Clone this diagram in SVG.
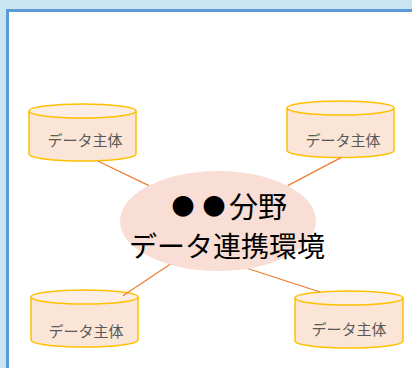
<svg xmlns="http://www.w3.org/2000/svg" width="412" height="368" viewBox="0 0 412 368">
<style>
.cyl-body{fill:#fbe5d6;stroke:#ffc000;stroke-width:1.5}
.cyl-top{fill:#fdeee5;stroke:#ffc000;stroke-width:1.5}
.cyl-text{font-family:"Noto Sans CJK JP","Noto Sans",sans-serif;font-size:15px;fill:#595959;text-anchor:middle}
.conn{stroke:#ed7d31;stroke-width:1.3;fill:none}
.hub-text{font-family:"Noto Sans CJK JP","Noto Sans",sans-serif;font-size:28px;fill:#000;text-anchor:middle}
.dot{font-size:23px}
</style>
<rect x="0" y="0" width="412" height="368" fill="#c9e5f2"/>
<rect x="7.5" y="10.5" width="420" height="380" fill="#ffffff" stroke="#5b9bd5" stroke-width="3"/>

<g id="cyl1">
<path class="cyl-body" d="M29,111 V154 A53.5,7 0 0 0 136,154 V111"/>
<ellipse class="cyl-top" cx="82.5" cy="111" rx="53.5" ry="7"/>
<text class="cyl-text" x="85" y="146">データ主体</text>
</g>
<g id="cyl2">
<path class="cyl-body" d="M287,108 V150.5 A53.5,7 0 0 0 394,150.5 V108"/>
<ellipse class="cyl-top" cx="340.5" cy="108" rx="53.5" ry="7"/>
<text class="cyl-text" x="343" y="146">データ主体</text>
</g>
<g id="cyl3">
<path class="cyl-body" d="M31,297 V340 A53.5,7 0 0 0 138,340 V297"/>
<ellipse class="cyl-top" cx="84.5" cy="297" rx="53.5" ry="7"/>
<text class="cyl-text" x="86" y="337">データ主体</text>
</g>
<g id="cyl4">
<path class="cyl-body" d="M295,298 V341 A54,7 0 0 0 403,341 V298"/>
<ellipse class="cyl-top" cx="349" cy="298" rx="54" ry="7"/>
<text class="cyl-text" x="349" y="335">データ主体</text>
</g>

<g id="connectors">
<line class="conn" x1="97.7" y1="161" x2="149" y2="185.7"/>
<line class="conn" x1="341" y1="157.7" x2="287.7" y2="185.7"/>
<line class="conn" x1="175" y1="261" x2="123" y2="295.7"/>
<line class="conn" x1="243" y1="267" x2="320" y2="292"/>
</g>

<g id="hub">
<ellipse cx="218" cy="221" rx="98" ry="50" fill="#f8ded4"/>
<text class="hub-text" y="218"><tspan class="dot" x="183" y="215">●</tspan><tspan class="dot" x="214" y="215">●</tspan><tspan x="229" y="218" text-anchor="start" style="text-anchor:start;font-size:29px">分野</tspan></text>
<text class="hub-text" x="227" y="257">データ連携環境</text>
</g>
</svg>
